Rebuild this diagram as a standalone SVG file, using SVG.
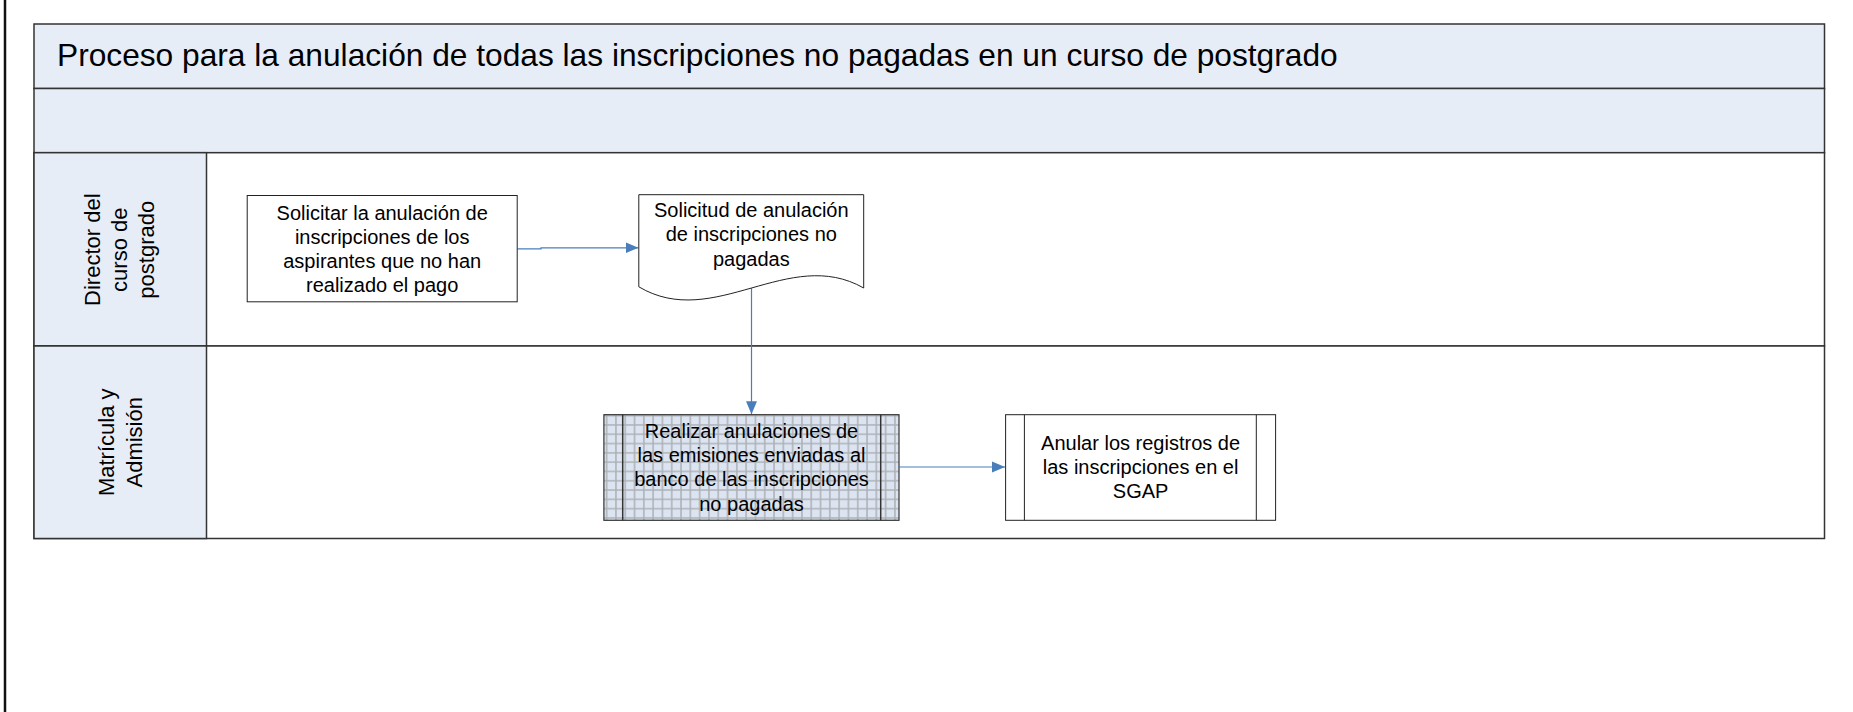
<svg xmlns="http://www.w3.org/2000/svg" width="1853" height="712" viewBox="0 0 1853 712">
<style>
text{font-family:"Liberation Sans",Arial,sans-serif;fill:#000}
.t{font-size:20px;text-anchor:middle}
.lane{font-size:22px;text-anchor:middle}
.band{fill:#e7edf7;stroke:#333;stroke-width:1.5}
.cell{fill:#fff;stroke:#333;stroke-width:1.5}
.node{fill:#fff;stroke:#222;stroke-width:1}
.conn{fill:none;stroke:#4a7ebb;stroke-width:1.2}
</style>
<defs>
<marker id="arr" markerUnits="userSpaceOnUse" markerWidth="14" markerHeight="12" refX="13" refY="6" orient="auto">
<path d="M0,0.5 L13,6 L0,11.5 Z" fill="#4a7ebb"/>
</marker>
<pattern id="grid" patternUnits="userSpaceOnUse" x="602" y="411" width="9.3" height="9.3">
<rect width="9.3" height="9.3" fill="#dbe4f0"/>
<path d="M4.65,0 V9.3 M0,4.65 H9.3" stroke="#adb1b6" stroke-width="1.5"/>
</pattern>
</defs>
<rect width="1853" height="712" fill="#fff"/>
<line x1="5" y1="0" x2="5" y2="712" stroke="#111" stroke-width="2.5"/>

<g id="pool">
<rect class="band" x="34" y="24" width="1790.5" height="64.5"/>
<text x="57" y="65.5" font-size="31.7">Proceso para la anulación de todas las inscripciones no pagadas en un curso de postgrado</text>
<rect class="band" x="34" y="88.5" width="1790.5" height="64.2"/>
</g>

<g id="lane1">
<rect class="cell" x="34" y="152.7" width="1790.5" height="193.3"/>
<rect class="band" x="34" y="152.7" width="172.5" height="193.3"/>
<g transform="rotate(-90)">
<text class="lane" x="-249.7" y="100">Director del</text>
<text class="lane" x="-249.7" y="127">curso de</text>
<text class="lane" x="-249.7" y="154">postgrado</text>
</g>
</g>

<g id="lane2">
<rect class="cell" x="34" y="346" width="1790.5" height="192.5"/>
<rect class="band" x="34" y="346" width="172.5" height="192.5"/>
<g transform="rotate(-90)">
<text class="lane" x="-442.3" y="113.5">Matrícula y</text>
<text class="lane" x="-442.3" y="141.5">Admisión</text>
</g>
</g>

<g id="connectors">
<path class="conn" d="M517.5,248.8 H541 V247.8 H638.5" marker-end="url(#arr)"/>
<path class="conn" d="M751.5,288 V414.2" marker-end="url(#arr)"/>
<path class="conn" d="M899.5,467 H1005" marker-end="url(#arr)"/>
</g>

<g id="n1">
<rect class="node" x="247.2" y="195.5" width="270" height="106.3"/>
<text class="t" x="382.2" y="219.5">Solicitar la anulación de</text>
<text class="t" x="382.2" y="243.7">inscripciones de los</text>
<text class="t" x="382.2" y="267.9">aspirantes que no han</text>
<text class="t" x="382.2" y="292.1">realizado el pago</text>
</g>

<g id="n2">
<path class="node" d="M638.8,194.7 H863.7 V288 C788.7,245.3 713.8,331.3 638.8,286.8 Z"/>
<text class="t" x="751.3" y="216.5">Solicitud de anulación</text>
<text class="t" x="751.3" y="241">de inscripciones no</text>
<text class="t" x="751.3" y="265.5">pagadas</text>
</g>

<g id="n3">
<rect x="603.9" y="414.7" width="295.1" height="105.6" fill="url(#grid)" stroke="#333" stroke-width="1.2"/>
<line x1="622.7" y1="414.7" x2="622.7" y2="520.3" stroke="#333" stroke-width="1.5"/>
<line x1="880.7" y1="414.7" x2="880.7" y2="520.3" stroke="#333" stroke-width="1.5"/>
<text class="t" x="751.5" y="437.7">Realizar anulaciones de</text>
<text class="t" x="751.5" y="462">las emisiones enviadas al</text>
<text class="t" x="751.5" y="486.3">banco de las inscripciones</text>
<text class="t" x="751.5" y="510.6">no pagadas</text>
</g>

<g id="n4">
<rect class="node" x="1005.6" y="414.7" width="270" height="105.6"/>
<line x1="1024.4" y1="414.7" x2="1024.4" y2="520.3" stroke="#222" stroke-width="1"/>
<line x1="1256.3" y1="414.7" x2="1256.3" y2="520.3" stroke="#222" stroke-width="1"/>
<text class="t" x="1140.6" y="450.3">Anular los registros de</text>
<text class="t" x="1140.6" y="474.3">las inscripciones en el</text>
<text class="t" x="1140.6" y="498.3">SGAP</text>
</g>
</svg>
